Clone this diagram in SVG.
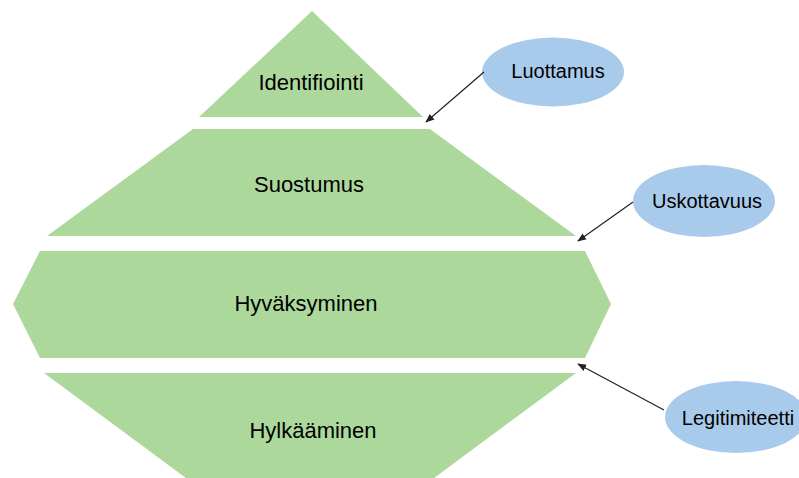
<svg xmlns="http://www.w3.org/2000/svg" width="799" height="478" viewBox="0 0 799 478">
<style>
.lvl{fill:#acd89c;stroke:none}
.oval{fill:#a9cbeb;stroke:none}
.t{font-family:"Liberation Sans",Arial,sans-serif;fill:#000;text-anchor:middle}
.big{font-size:22px}
.small{font-size:20px}
.con{stroke:#222;stroke-width:1.2;fill:none;marker-end:url(#ah)}
</style>
<defs>
<marker id="ah" viewBox="0 0 10 10" refX="9" refY="5" markerWidth="9" markerHeight="9" markerUnits="userSpaceOnUse" orient="auto">
<path d="M0,1 L10,5 L0,9 z" fill="#222"/>
</marker>
</defs>
<rect width="799" height="478" fill="#fff"/>
<g id="identifiointi">
<polygon class="lvl" points="312,11 423,117 199,117"/>
<text class="t big" x="311" y="90">Identifiointi</text>
</g>
<g id="suostumus">
<polygon class="lvl" points="193,129 430,129 576,236 47,236"/>
<text class="t big" x="309" y="192">Suostumus</text>
</g>
<g id="hyvaksyminen">
<polygon class="lvl" points="40,251 585,251 611,304 585,358 40,358 13,304"/>
<text class="t big" x="306" y="311">Hyväksyminen</text>
</g>
<g id="hylkaaminen">
<polygon class="lvl" points="44,373 576,373 430,481 190,481"/>
<text class="t big" x="313" y="438">Hylkääminen</text>
</g>
<g id="luottamus">
<ellipse class="oval" cx="553" cy="72" rx="71" ry="34.5"/>
<text class="t small" x="558" y="78">Luottamus</text>
</g>
<g id="uskottavuus">
<ellipse class="oval" cx="704" cy="201" rx="71" ry="36"/>
<text class="t small" x="707" y="208">Uskottavuus</text>
</g>
<g id="legitimiteetti">
<ellipse class="oval" cx="736" cy="417" rx="71" ry="36"/>
<text class="t small" x="738" y="425">Legitimiteetti</text>
</g>
<g id="connectors">
<line class="con" x1="484" y1="72" x2="426" y2="122"/>
<line class="con" x1="633" y1="202" x2="578" y2="241"/>
<line class="con" x1="664" y1="410" x2="578" y2="364"/>
</g>
</svg>
